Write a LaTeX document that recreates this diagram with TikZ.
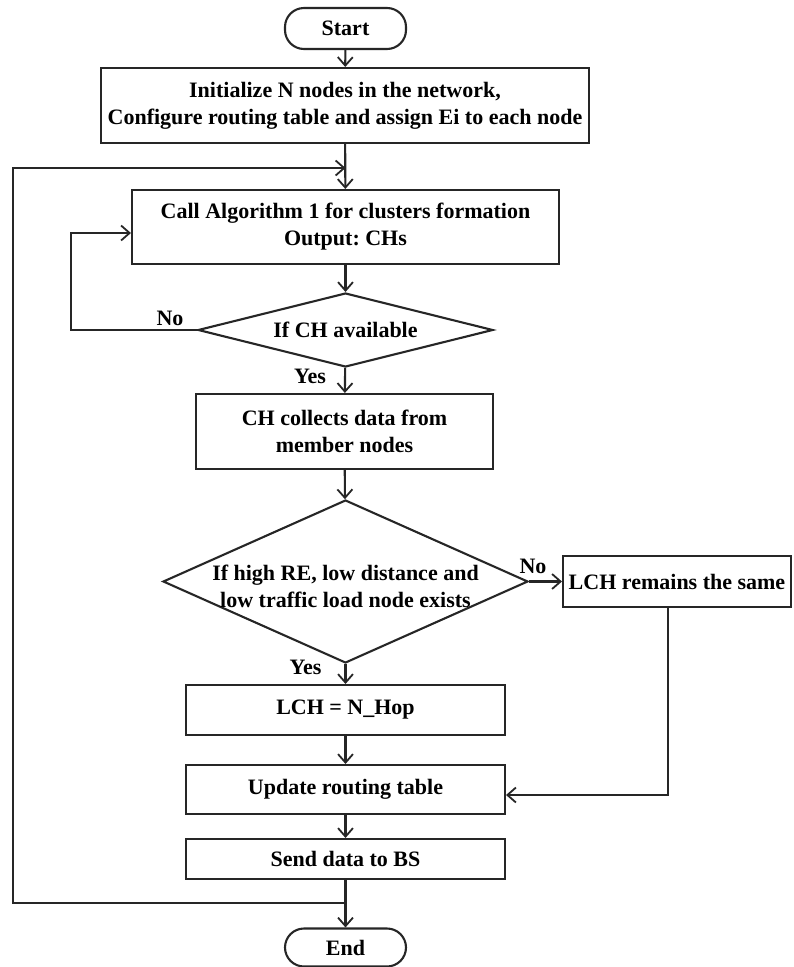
\documentclass[tikz,border=0pt]{standalone}
\usepackage{fontspec}
\setmainfont{Liberation Serif}
\usetikzlibrary{arrows.meta,shapes.geometric,calc}
\frenchspacing
\begin{document}
\begin{tikzpicture}[x=1pt,y=-1pt,
  every node/.style={font=\fontsize{22}{27}\selectfont\bfseries, text=black},
  ln/.style={draw=black!85, line width=2.1pt},
  box/.style={ln, rectangle, inner sep=0pt, align=center},
  term/.style={box, rounded corners=19pt},
  dec/.style={ln, diamond, inner sep=0pt},
  txt/.style={inner sep=0pt, align=center},
  arr/.style={ln, -{Straight Barb[length=8.5pt,width=15pt,line width=1.8pt]}}]
\useasboundingbox (0,0) rectangle (793,967);
\fill[white] (0,0) rectangle (793,967);

\node[term, minimum width=121pt, minimum height=41pt] (start) at (345.5,28.5) {Start};
\node[box, minimum width=488pt, minimum height=75pt] (init) at (345,105.5)
  {Initialize N nodes in the network,\\Configure routing table and assign Ei to each node};
\node[box, minimum width=427pt, minimum height=74pt] (call) at (345.5,227)
  {Call Algorithm 1 for clusters formation\\Output: CHs};
\node[dec, minimum width=295pt, minimum height=74pt] (d1) at (345.5,330) {};
\node[txt] (d1t) at (345.5,330) {If CH available};
\node[box, minimum width=297pt, minimum height=75pt] (ch) at (344.5,431.5)
  {CH collects data from\\member nodes};
\node[dec, minimum width=365pt, minimum height=163pt] (d2) at (345.5,581.5) {};
\node[txt] (d2t) at (345.5,586) {If high RE, low distance and\\low traffic load node exists};
\node[box, minimum width=228pt, minimum height=51pt] (same) at (677,581.5) {LCH remains the same};
\node[box, minimum width=319pt, minimum height=50pt] (nhop) at (345.5,710) {LCH = N\_Hop};
\node[box, minimum width=319pt, minimum height=49pt] (upd) at (345.5,789.5) {Update routing table};
\node[box, minimum width=319pt, minimum height=40pt] (send) at (345.5,859) {Send data to BS};
\node[term, minimum width=121pt, minimum height=38pt] (end) at (345.5,947.5) {End};

\node[txt] (no1) at (170,318) {No};
\node[txt] (yes1) at (310,376) {Yes};
\node[txt] (no2) at (533,566) {No};
\node[txt] (yes2) at (305.5,667) {Yes};

\coordinate (jt) at (345.5,168);
\coordinate (jb) at (345.5,903);
\coordinate (lx) at (13,903);
\coordinate (ix) at (71,330);

\draw[arr] (start) -- (init);
\draw[arr] (init) -- (call);
\draw[arr] (call) -- (d1);
\draw[arr] (d1) -- (ch);
\draw[arr] (ch) -- (d2);
\draw[arr] (d2) -- (same);
\draw[arr] (d2) -- (nhop);
\draw[arr] (nhop) -- (upd);
\draw[arr] (upd) -- (send);
\draw[arr] (send) -- (end);
\draw[arr] (d1.west) -- (ix) |- ([yshift=-6pt]call.west);
\draw[arr] ([xshift=-9pt]same.south) |- ([yshift=-5.5pt]upd.east);
\draw[arr] (jb) -- (lx) |- (jt);
\end{tikzpicture}
\end{document}
